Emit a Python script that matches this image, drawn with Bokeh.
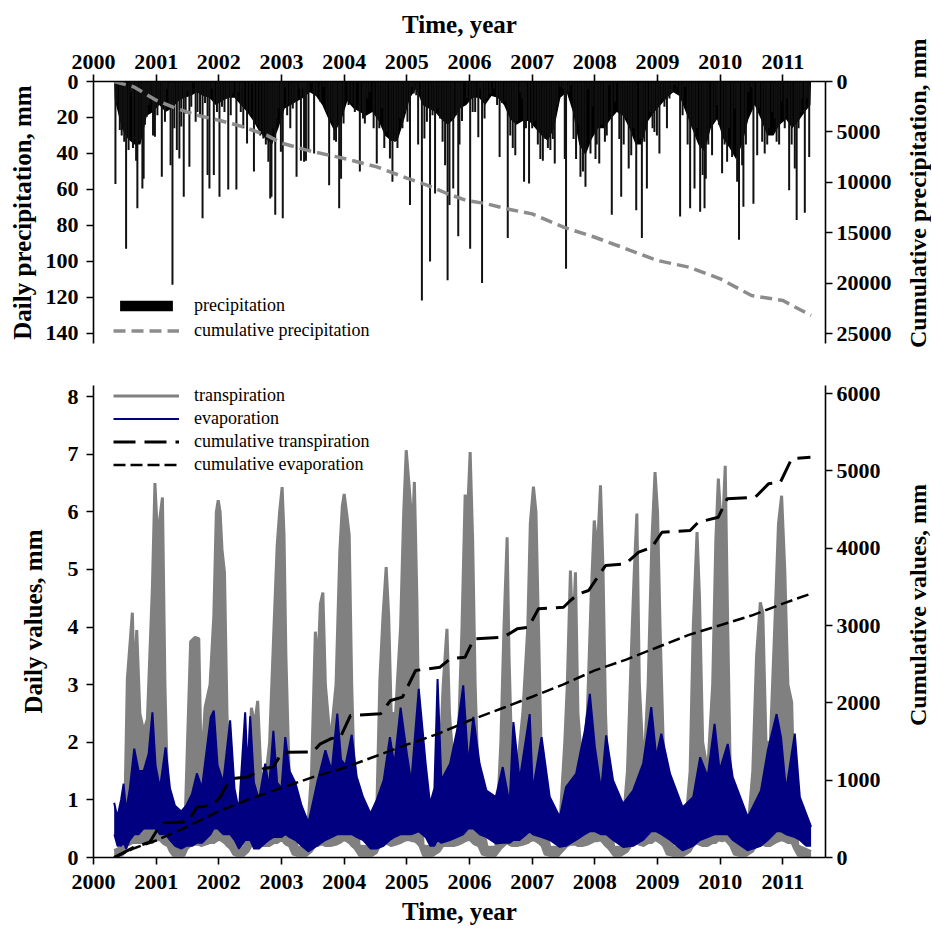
import math
from bokeh.plotting import figure
from bokeh.layouts import column, row
from bokeh.models import Range1d, LinearAxis, FixedTicker, Legend, LegendItem, Div
from bokeh.embed import file_html
from bokeh.resources import INLINE

FONT = "Liberation Serif"

# ---------------- data ----------------
years = list(range(2000, 2012))
precip_ticks = [0, 20, 40, 60, 80, 100, 120, 140]
cum_precip_ticks = [0, 5000, 10000, 15000, 20000, 25000]
daily_ticks = [0, 1, 2, 3, 4, 5, 6, 7, 8]
cum_ticks = [0, 1000, 2000, 3000, 4000, 5000, 6000]

# individual daily precipitation events (decimal year, mm)
precip_events = [
    (2000.35, 57), (2000.37, 12), (2000.42, 27), (2000.45, 30), (2000.49, 33.5), (2000.52, 93),
    (2000.56, 38), (2000.60, 6), (2000.63, 37), (2000.67, 4), (2000.68, 44), (2000.70, 70.5),
    (2000.74, 33), (2000.78, 59.4), (2000.80, 54), (2000.82, 24), (2000.85, 19.6), (2000.88, 13),
    (2000.91, 9.4), (2000.95, 30), (2000.98, 30.7), (2001.02, 18.7), (2001.05, 13), (2001.09, 53),
    (2001.12, 12), (2001.14, 22.4), (2001.17, 4), (2001.21, 13), (2001.23, 46.5), (2001.26, 113),
    (2001.29, 26), (2001.33, 38), (2001.37, 42.8), (2001.40, 25), (2001.44, 64), (2001.47, 17.8),
    (2001.50, 5), (2001.53, 47.4), (2001.56, 14), (2001.60, 1), (2001.63, 22.4), (2001.66, 17),
    (2001.70, 18.7), (2001.74, 76), (2001.78, 12), (2001.82, 52), (2001.85, 59.4), (2001.89, 4),
    (2001.92, 52), (2001.97, 17), (2002.01, 64), (2002.05, 14), (2002.09, 17), (2002.13, 9.4),
    (2002.15, 60), (2002.19, 18.7), (2002.22, 6.7), (2002.28, 60), (2002.31, 6), (2002.35, 17),
    (2002.39, 26), (2002.45, 34.4), (2002.50, 18.7), (2002.53, 1), (2002.56, 50), (2002.61, 24),
    (2002.66, 30), (2002.71, 31.7), (2002.75, 35), (2002.79, 44.6), (2002.82, 65), (2002.84, 64),
    (2002.87, 26), (2002.90, 74), (2002.92, 20.6), (2002.95, 15), (2002.99, 39), (2003.02, 76),
    (2003.06, 3), (2003.09, 18.7), (2003.14, 26), (2003.18, 15), (2003.22, 10.4), (2003.24, 53),
    (2003.29, 4), (2003.31, 44), (2003.34, 4), (2003.36, 44.6), (2003.39, 44), (2003.43, 39),
    (2003.48, 1), (2003.52, 40), (2003.56, 7.6), (2003.62, 11.3), (2003.67, 3), (2003.72, 17),
    (2003.76, 57.6), (2003.80, 22), (2003.84, 32.6), (2003.87, 33.5), (2003.91, 13), (2003.92, 70.5),
    (2003.95, 54), (2003.99, 23.3), (2004.07, 13), (2004.12, 12.2), (2004.17, 17), (2004.21, 1),
    (2004.25, 50), (2004.30, 20.6), (2004.33, 23.3), (2004.37, 9.4), (2004.41, 6), (2004.47, 26),
    (2004.52, 45.5), (2004.56, 26), (2004.60, 15), (2004.64, 37), (2004.68, 28), (2004.73, 42.8),
    (2004.77, 55.7), (2004.81, 33.5), (2004.85, 37), (2004.89, 20.6), (2004.93, 26), (2004.97, 17),
    (2005.01, 22.4), (2005.05, 68.7), (2005.08, 3), (2005.11, 6.7), (2005.15, 7.6), (2005.18, 35),
    (2005.24, 121.7), (2005.28, 31.7), (2005.32, 22.4), (2005.37, 100), (2005.41, 18.7), (2005.45, 62.2),
    (2005.49, 15), (2005.53, 20.6), (2005.57, 33.5), (2005.61, 46.5), (2005.65, 110.5), (2005.68, 68.7),
    (2005.72, 20.6), (2005.74, 59.4), (2005.79, 18.7), (2005.82, 86), (2005.84, 35), (2005.88, 22),
    (2005.96, 9.4), (2006.01, 93), (2006.05, 17), (2006.09, 17), (2006.14, 31), (2006.17, 4),
    (2006.20, 112), (2006.24, 20.6), (2006.28, 9.4), (2006.33, 6.7), (2006.39, 4), (2006.44, 13),
    (2006.48, 42), (2006.52, 12), (2006.57, 11), (2006.61, 87), (2006.65, 30), (2006.69, 37),
    (2006.73, 41), (2006.76, 22), (2006.81, 6), (2006.84, 9.4), (2006.87, 55.7), (2006.90, 26),
    (2006.95, 56.7), (2007.00, 26), (2007.05, 22), (2007.09, 35), (2007.13, 43), (2007.17, 44),
    (2007.21, 32), (2007.25, 37), (2007.29, 38), (2007.33, 32), (2007.36, 45.5), (2007.40, 13),
    (2007.45, 3), (2007.49, 4), (2007.52, 43), (2007.54, 104), (2007.58, 6), (2007.62, 2),
    (2007.66, 32), (2007.70, 43), (2007.74, 24), (2007.77, 53), (2007.81, 50), (2007.85, 58.5),
    (2007.89, 4), (2007.93, 40), (2007.96, 14), (2008.01, 43), (2008.03, 35), (2008.07, 45.5),
    (2008.11, 24), (2008.16, 33.5), (2008.19, 30), (2008.23, 2), (2008.27, 74), (2008.32, 11.3),
    (2008.35, 1), (2008.39, 32), (2008.42, 64), (2008.46, 35), (2008.50, 20.6), (2008.54, 48.3),
    (2008.58, 41), (2008.62, 26), (2008.66, 71.5), (2008.72, 32), (2008.75, 87), (2008.79, 33.5),
    (2008.83, 59.4), (2008.88, 17), (2008.92, 26), (2008.95, 28), (2008.99, 30), (2009.03, 40),
    (2009.07, 9.4), (2009.11, 14), (2009.15, 26), (2009.19, 9.4), (2009.23, 6), (2009.27, 2),
    (2009.31, 3), (2009.36, 75), (2009.40, 18.7), (2009.44, 3), (2009.48, 35), (2009.52, 70.5),
    (2009.56, 26), (2009.59, 59.4), (2009.63, 26), (2009.68, 72.4), (2009.72, 52), (2009.75, 70.5),
    (2009.77, 54), (2009.81, 35), (2009.87, 41), (2009.91, 22), (2009.95, 13), (2009.98, 24),
    (2010.03, 51), (2010.07, 35), (2010.11, 44.6), (2010.14, 26), (2010.19, 42), (2010.23, 15),
    (2010.27, 55.7), (2010.30, 88), (2010.35, 46.5), (2010.37, 69.6), (2010.41, 35), (2010.45, 6),
    (2010.50, 3), (2010.53, 68), (2010.59, 41), (2010.62, 15), (2010.67, 33.5), (2010.71, 40),
    (2010.75, 35), (2010.78, 26), (2010.83, 17), (2010.87, 20.6), (2010.90, 33.5), (2010.94, 35),
    (2010.98, 11.3), (2011.03, 26), (2011.06, 9.4), (2011.10, 60.4), (2011.14, 35), (2011.19, 48.3),
    (2011.22, 77), (2011.25, 26), (2011.28, 17), (2011.30, 9.4), (2011.35, 73), (2011.38, 9.4),
    (2011.42, 42),
]

# depth of the dense mass of small daily events (decimal year, mm)
precip_mass = [
    (2000.33, 0), (2000.34, 10), (2000.45, 26), (2000.55, 32), (2000.65, 35), (2000.75, 35),
    (2000.85, 19), (2000.95, 17), (2001.05, 13), (2001.15, 17), (2001.25, 15), (2001.35, 11),
    (2001.45, 9), (2001.55, 8), (2001.65, 6), (2001.75, 8), (2001.85, 9), (2001.95, 13),
    (2002.05, 11), (2002.15, 9), (2002.25, 9), (2002.35, 13), (2002.45, 17), (2002.55, 22),
    (2002.65, 28), (2002.75, 32), (2002.85, 35), (2002.95, 26), (2003.05, 15), (2003.15, 13),
    (2003.25, 11), (2003.35, 9), (2003.45, 6), (2003.55, 8), (2003.65, 13), (2003.75, 21),
    (2003.85, 28), (2003.95, 22), (2004.05, 11), (2004.15, 15), (2004.25, 17), (2004.35, 19),
    (2004.45, 17), (2004.55, 22), (2004.65, 30), (2004.75, 33), (2004.85, 33), (2004.95, 22),
    (2005.05, 9), (2005.15, 4), (2005.25, 13), (2005.35, 15), (2005.45, 17), (2005.55, 21),
    (2005.65, 24), (2005.75, 21), (2005.85, 15), (2005.95, 13), (2006.05, 9), (2006.15, 9),
    (2006.25, 13), (2006.35, 8), (2006.45, 9), (2006.55, 13), (2006.65, 21), (2006.75, 24),
    (2006.85, 22), (2006.95, 22), (2007.05, 26), (2007.15, 30), (2007.25, 33), (2007.35, 26),
    (2007.45, 9), (2007.55, 6), (2007.65, 17), (2007.75, 35), (2007.85, 41), (2007.95, 32),
    (2008.05, 26), (2008.15, 26), (2008.25, 21), (2008.35, 17), (2008.45, 19), (2008.55, 26),
    (2008.65, 35), (2008.75, 35), (2008.85, 22), (2008.95, 17), (2009.05, 13), (2009.15, 9),
    (2009.25, 6), (2009.35, 8), (2009.45, 17), (2009.55, 26), (2009.65, 35), (2009.75, 39),
    (2009.85, 26), (2009.95, 21), (2010.05, 32), (2010.15, 37), (2010.25, 43), (2010.35, 35),
    (2010.45, 21), (2010.55, 13), (2010.65, 21), (2010.75, 30), (2010.85, 30), (2010.95, 24),
    (2011.05, 21), (2011.15, 26), (2011.25, 22), (2011.35, 17), (2011.44, 13), (2011.45, 0),
]

# cumulative precipitation (decimal year, mm)
cum_precip = [
    (2000.33, 0), (2000.64, 530), (2001.0, 1850), (2001.33, 2680), (2001.65, 3340),
    (2002.0, 3840), (2002.39, 4500), (2002.76, 5320), (2003.0, 6100), (2003.4, 6810),
    (2004.0, 7640), (2004.52, 8470), (2005.0, 9580), (2005.32, 10280), (2005.64, 11110),
    (2005.95, 11800), (2006.25, 12100), (2006.59, 12630), (2007.0, 13130), (2007.5, 14450),
    (2008.0, 15450), (2008.5, 16600), (2009.0, 17760), (2009.5, 18420), (2010.0, 19570),
    (2010.5, 21230), (2011.0, 21730), (2011.45, 23210),
]

# daily transpiration: (decimal year, upper envelope, lower envelope) in mm
transpiration = [
    (2000.33, 0.12, 0.02), (2000.45, 0.18, 0.03), (2000.50, 0.8, 0.08), (2000.54, 3.1, 0.2),
    (2000.62, 4.25, 0.25), (2000.65, 3.0, 0.25), (2000.69, 3.95, 0.25), (2000.74, 2.5, 0.25),
    (2000.80, 2.2, 0.25), (2000.86, 2.4, 0.25), (2000.94, 4.7, 0.25), (2000.98, 6.5, 0.3),
    (2001.03, 5.4, 0.3), (2001.06, 5.9, 0.3), (2001.10, 6.25, 0.25), (2001.14, 3.0, 0.22),
    (2001.18, 1.2, 0.2), (2001.22, 0.7, 0.1), (2001.27, 0.18, 0.03), (2001.45, 0.18, 0.03),
    (2001.50, 2.0, 0.15), (2001.55, 3.75, 0.2), (2001.62, 3.82, 0.22), (2001.68, 3.8, 0.22),
    (2001.72, 1.5, 0.2), (2001.78, 2.6, 0.22), (2001.86, 3.0, 0.25), (2001.92, 4.2, 0.25),
    (2001.96, 6.0, 0.28), (2001.99, 6.2, 0.3), (2002.02, 6.0, 0.3), (2002.05, 5.35, 0.28),
    (2002.09, 4.95, 0.25), (2002.13, 2.5, 0.2), (2002.18, 1.0, 0.15), (2002.23, 0.5, 0.05),
    (2002.28, 0.18, 0.03), (2002.40, 0.18, 0.03), (2002.47, 1.5, 0.1), (2002.52, 2.6, 0.2),
    (2002.57, 2.3, 0.2), (2002.62, 2.72, 0.2), (2002.67, 1.5, 0.2), (2002.73, 1.2, 0.2),
    (2002.81, 2.0, 0.2), (2002.88, 4.0, 0.25), (2002.93, 5.4, 0.25), (2002.97, 6.0, 0.28),
    (2003.01, 6.43, 0.3), (2003.04, 5.6, 0.25), (2003.07, 3.5, 0.22), (2003.12, 1.5, 0.2),
    (2003.18, 0.6, 0.05), (2003.25, 0.18, 0.03), (2003.40, 0.18, 0.03), (2003.48, 1.5, 0.1),
    (2003.54, 3.92, 0.2), (2003.58, 3.3, 0.2), (2003.62, 4.4, 0.22), (2003.66, 4.6, 0.22),
    (2003.70, 3.0, 0.2), (2003.78, 2.0, 0.2), (2003.87, 3.0, 0.22), (2003.93, 5.3, 0.25),
    (2003.97, 6.1, 0.28), (2004.00, 6.31, 0.3), (2004.04, 5.97, 0.28), (2004.08, 5.6, 0.25),
    (2004.12, 3.0, 0.2), (2004.17, 1.0, 0.15), (2004.24, 0.2, 0.03), (2004.45, 0.18, 0.03),
    (2004.52, 0.8, 0.08), (2004.57, 3.1, 0.2), (2004.62, 4.2, 0.22), (2004.67, 5.04, 0.25),
    (2004.71, 4.2, 0.22), (2004.75, 2.5, 0.2), (2004.82, 2.5, 0.22), (2004.90, 4.0, 0.25),
    (2004.95, 6.0, 0.28), (2004.99, 7.07, 0.3), (2005.04, 6.4, 0.3), (2005.09, 5.65, 0.28),
    (2005.12, 6.52, 0.28), (2005.16, 4.5, 0.25), (2005.20, 1.5, 0.2), (2005.26, 0.2, 0.03),
    (2005.42, 0.18, 0.03), (2005.52, 1.5, 0.1), (2005.58, 3.0, 0.2), (2005.64, 3.97, 0.2),
    (2005.68, 2.5, 0.2), (2005.75, 1.5, 0.2), (2005.82, 2.0, 0.22), (2005.88, 4.0, 0.25),
    (2005.93, 6.3, 0.28), (2005.97, 6.0, 0.3), (2006.01, 7.04, 0.3), (2006.05, 5.5, 0.25),
    (2006.09, 3.0, 0.22), (2006.14, 1.2, 0.2), (2006.20, 0.6, 0.05), (2006.28, 0.18, 0.03),
    (2006.42, 0.18, 0.03), (2006.50, 2.0, 0.15), (2006.55, 4.0, 0.2), (2006.60, 5.56, 0.25),
    (2006.63, 3.5, 0.22), (2006.68, 1.5, 0.2), (2006.76, 1.5, 0.2), (2006.85, 2.5, 0.22),
    (2006.93, 4.0, 0.25), (2006.97, 5.8, 0.28), (2007.02, 6.44, 0.3), (2007.06, 6.0, 0.28),
    (2007.10, 4.0, 0.25), (2007.15, 1.5, 0.2), (2007.20, 0.6, 0.05), (2007.28, 0.18, 0.03),
    (2007.42, 0.18, 0.03), (2007.52, 2.0, 0.15), (2007.56, 3.0, 0.2), (2007.61, 4.98, 0.22),
    (2007.65, 3.8, 0.22), (2007.69, 4.95, 0.22), (2007.73, 2.5, 0.2), (2007.80, 1.5, 0.2),
    (2007.88, 2.5, 0.22), (2007.94, 4.5, 0.25), (2007.99, 5.85, 0.28), (2008.04, 5.3, 0.28),
    (2008.09, 6.46, 0.3), (2008.13, 5.0, 0.25), (2008.17, 2.5, 0.2), (2008.22, 1.0, 0.15),
    (2008.30, 0.18, 0.03), (2008.42, 0.18, 0.03), (2008.52, 1.5, 0.1), (2008.58, 3.5, 0.2),
    (2008.63, 5.0, 0.22), (2008.67, 5.97, 0.25), (2008.71, 3.0, 0.22), (2008.78, 1.5, 0.2),
    (2008.85, 3.0, 0.25), (2008.91, 5.5, 0.25), (2008.96, 6.69, 0.3), (2009.00, 6.0, 0.28),
    (2009.04, 4.0, 0.25), (2009.09, 2.0, 0.2), (2009.15, 0.8, 0.05), (2009.25, 0.18, 0.03),
    (2009.42, 0.18, 0.03), (2009.52, 1.5, 0.1), (2009.57, 4.0, 0.2), (2009.63, 5.65, 0.25),
    (2009.67, 4.5, 0.22), (2009.72, 2.0, 0.2), (2009.80, 1.5, 0.2), (2009.88, 3.0, 0.25),
    (2009.93, 5.5, 0.25), (2009.97, 6.58, 0.3), (2010.03, 5.5, 0.28), (2010.08, 6.8, 0.3),
    (2010.12, 4.0, 0.25), (2010.16, 1.5, 0.2), (2010.22, 0.6, 0.05), (2010.30, 0.18, 0.03),
    (2010.42, 0.18, 0.03), (2010.52, 1.5, 0.1), (2010.58, 3.5, 0.2), (2010.64, 4.43, 0.22),
    (2010.68, 4.25, 0.22), (2010.73, 2.0, 0.2), (2010.80, 2.0, 0.2), (2010.87, 4.0, 0.25),
    (2010.93, 5.8, 0.28), (2010.98, 6.28, 0.3), (2011.03, 5.0, 0.28), (2011.08, 3.0, 0.25),
    (2011.14, 2.7, 0.25), (2011.18, 1.0, 0.15), (2011.24, 0.2, 0.03), (2011.45, 0.1, 0.02),
]

# daily evaporation: (decimal year, upper envelope, lower envelope) in mm
evaporation = [
    (2000.33, 0.95, 0.4), (2000.38, 0.7, 0.2), (2000.44, 1.0, 0.2), (2000.48, 1.28, 0.25),
    (2000.52, 0.8, 0.15), (2000.58, 1.2, 0.3), (2000.65, 1.89, 0.4), (2000.72, 1.5, 0.4),
    (2000.80, 1.5, 0.5), (2000.88, 1.8, 0.5), (2000.94, 2.52, 0.5), (2000.99, 1.6, 0.5),
    (2001.06, 1.2, 0.4), (2001.15, 1.91, 0.4), (2001.22, 1.2, 0.3), (2001.30, 0.9, 0.2),
    (2001.40, 0.8, 0.15), (2001.48, 0.9, 0.2), (2001.57, 1.1, 0.2), (2001.65, 1.46, 0.25),
    (2001.73, 1.2, 0.25), (2001.87, 2.43, 0.4), (2001.92, 2.55, 0.5), (2001.98, 1.6, 0.5),
    (2002.07, 1.3, 0.4), (2002.18, 2.38, 0.4), (2002.25, 1.2, 0.3), (2002.32, 0.8, 0.15),
    (2002.42, 2.52, 0.3), (2002.46, 1.5, 0.3), (2002.50, 2.45, 0.3), (2002.56, 1.3, 0.15),
    (2002.64, 1.0, 0.15), (2002.74, 1.63, 0.25), (2002.80, 1.2, 0.3), (2002.87, 2.2, 0.35),
    (2002.93, 1.3, 0.35), (2003.00, 1.2, 0.35), (2003.06, 2.09, 0.4), (2003.13, 1.5, 0.35),
    (2003.22, 1.3, 0.3), (2003.32, 0.9, 0.2), (2003.43, 0.6, 0.1), (2003.57, 1.3, 0.2),
    (2003.70, 1.86, 0.3), (2003.80, 1.5, 0.35), (2003.89, 2.5, 0.4), (2003.95, 1.7, 0.4),
    (2004.02, 1.6, 0.4), (2004.12, 2.13, 0.4), (2004.20, 1.4, 0.35), (2004.30, 1.05, 0.3),
    (2004.42, 0.76, 0.15), (2004.52, 1.0, 0.15), (2004.63, 1.34, 0.2), (2004.73, 2.09, 0.3),
    (2004.80, 1.6, 0.35), (2004.90, 2.6, 0.4), (2005.00, 1.8, 0.4), (2005.07, 1.3, 0.4),
    (2005.19, 2.93, 0.45), (2005.30, 1.63, 0.35), (2005.37, 0.93, 0.2), (2005.44, 1.2, 0.2),
    (2005.49, 3.1, 0.3), (2005.55, 1.34, 0.25), (2005.69, 1.63, 0.3), (2005.80, 2.2, 0.35),
    (2005.90, 2.99, 0.4), (2005.98, 1.6, 0.5), (2006.06, 2.44, 0.5), (2006.16, 1.63, 0.4),
    (2006.27, 1.16, 0.35), (2006.42, 1.05, 0.24), (2006.53, 1.57, 0.25), (2006.64, 0.93, 0.25),
    (2006.70, 2.35, 0.3), (2006.80, 1.34, 0.3), (2006.96, 2.49, 0.45), (2007.01, 1.16, 0.4),
    (2007.15, 2.09, 0.35), (2007.28, 1.05, 0.3), (2007.44, 0.7, 0.18), (2007.54, 1.22, 0.2),
    (2007.70, 1.45, 0.3), (2007.84, 2.2, 0.4), (2007.92, 2.84, 0.45), (2008.00, 1.92, 0.45),
    (2008.10, 1.16, 0.4), (2008.18, 2.12, 0.4), (2008.29, 1.34, 0.3), (2008.45, 0.93, 0.18),
    (2008.61, 1.16, 0.2), (2008.77, 1.63, 0.3), (2008.90, 2.61, 0.45), (2008.98, 1.74, 0.45),
    (2009.06, 2.15, 0.4), (2009.20, 1.45, 0.3), (2009.40, 0.87, 0.12), (2009.57, 1.05, 0.2),
    (2009.68, 1.74, 0.3), (2009.80, 1.4, 0.35), (2009.91, 2.32, 0.4), (2009.99, 1.51, 0.4),
    (2010.12, 1.97, 0.4), (2010.20, 1.39, 0.3), (2010.44, 0.7, 0.12), (2010.65, 1.16, 0.2),
    (2010.76, 1.86, 0.3), (2010.90, 2.49, 0.45), (2010.97, 2.09, 0.45), (2011.05, 1.16, 0.4),
    (2011.19, 2.15, 0.35), (2011.27, 1.05, 0.3), (2011.37, 0.76, 0.2), (2011.45, 0.53, 0.2),
]

# cumulative transpiration (decimal year, mm)
cum_transpiration = [
    (2000.33, 0), (2000.64, 130), (2000.90, 200), (2001.04, 390), (2001.12, 450), (2001.50, 460),
    (2001.65, 650), (2001.89, 675), (2002.02, 780), (2002.18, 1018), (2002.45, 1040),
    (2002.71, 1147), (2002.86, 1170), (2003.00, 1340), (2003.10, 1360), (2003.50, 1365),
    (2003.62, 1471), (2003.80, 1540), (2003.94, 1556), (2004.10, 1837), (2004.58, 1859),
    (2004.74, 2031), (2004.93, 2074), (2005.14, 2419), (2005.53, 2462), (2005.69, 2570),
    (2005.93, 2591), (2006.07, 2829), (2006.54, 2850), (2006.76, 2958), (2006.94, 2979),
    (2007.10, 3217), (2007.50, 3238), (2007.61, 3325), (2007.74, 3411), (2007.90, 3454),
    (2008.17, 3777), (2008.49, 3800), (2008.70, 3950), (2008.91, 4014), (2009.07, 4208),
    (2009.52, 4230), (2009.65, 4337), (2009.97, 4402), (2010.11, 4640), (2010.56, 4661),
    (2010.77, 4834), (2010.96, 4855), (2011.14, 5158), (2011.44, 5178),
]

# cumulative evaporation (decimal year, mm)
cum_evaporation = [
    (2000.33, 0), (2000.65, 120), (2001.0, 220), (2001.5, 400), (2002.0, 600), (2002.5, 760),
    (2003.0, 900), (2003.5, 1040), (2004.0, 1160), (2004.5, 1310), (2005.0, 1460),
    (2005.5, 1600), (2006.0, 1772), (2006.5, 1924), (2007.0, 2080), (2007.5, 2240),
    (2008.0, 2420), (2008.5, 2560), (2009.0, 2720), (2009.5, 2880), (2010.0, 3005),
    (2010.5, 3130), (2011.0, 3285), (2011.44, 3411),
]

# ---------------- helpers ----------------
def col(rows, i):
    return [r[i] for r in rows]


def style_axis(ax, ticks, label_standoff, tick_standoff, tick_size="22px"):
    ax.ticker = FixedTicker(ticks=ticks)
    ax.major_label_text_font = FONT
    ax.major_label_text_font_style = "bold"
    ax.major_label_text_font_size = tick_size
    ax.major_label_text_color = "black"
    ax.axis_label_text_font = FONT
    ax.axis_label_text_font_style = "bold"
    ax.axis_label_text_font_size = "25px"
    ax.axis_label_text_color = "black"
    ax.axis_line_color = "black"
    ax.axis_line_width = 1.6
    ax.major_tick_line_color = "black"
    ax.major_tick_line_width = 1.6
    ax.major_tick_in = 0
    ax.major_tick_out = 7
    ax.minor_tick_line_color = None
    ax.axis_label_standoff = label_standoff
    ax.major_label_standoff = tick_standoff


def title_div(text, height, pad_top=0, pad_bottom=0, width=27):
    # right-hand title reading from bottom to top, like the reference
    return Div(text=text, width=width, height=height,
               styles={"writing-mode": "vertical-rl", "transform": "rotate(180deg)",
                       "font-family": "'Liberation Serif', serif", "font-weight": "bold",
                       "font-size": "24px", "line-height": "27px", "text-align": "center",
                       "white-space": "nowrap", "color": "black",
                       "box-sizing": "border-box",
                       "padding-top": f"{pad_top}px", "padding-bottom": f"{pad_bottom}px",
                       "margin": "0px", "overflow": "visible"})


def legend_for(items, loc, glyph_h, label_h, spacing):
    lg = Legend(items=items, location=loc)
    lg.border_line_color = None
    lg.background_fill_alpha = 0
    lg.padding = 0
    lg.margin = 0
    lg.spacing = spacing
    lg.glyph_width = 66
    lg.glyph_height = glyph_h
    lg.label_height = label_h
    lg.label_standoff = 15
    lg.label_text_font = FONT
    lg.label_text_font_size = "18px"
    lg.label_text_color = "black"
    lg.label_text_baseline = "middle"
    return lg


X_RANGE = (2000, 2011.68)

# ---------------- top panel: precipitation ----------------
top = figure(frame_width=732, frame_height=262,
             x_range=Range1d(*X_RANGE), y_range=Range1d(145.6, 0),
             x_axis_location="above", y_axis_location="left",
             output_backend="svg", toolbar_location=None,
             min_border_left=93, min_border_right=80,
             min_border_top=81, min_border_bottom=5,
             background_fill_color="white", border_fill_color="white")
top.outline_line_color = None
top.xgrid.visible = False
top.ygrid.visible = False
top.extra_y_ranges = {"cum": Range1d(25990, 0)}

mass = top.varea(x=col(precip_mass, 0), y1=0, y2=col(precip_mass, 1),
                 fill_color="black", fill_alpha=1)
top.segment(x0=col(precip_events, 0), y0=0, x1=col(precip_events, 0),
            y1=col(precip_events, 1), line_color="#111111", line_width=2)
cum_p = top.line(x=col(cum_precip, 0), y=col(cum_precip, 1), y_range_name="cum",
                 line_color="#8c8c8c", line_width=3.5, line_dash="12 6")

style_axis(top.xaxis[0], years, 14, 6, tick_size="22px")
top.xaxis[0].axis_label = "Time, year"
style_axis(top.yaxis[0], precip_ticks, 7, 8)
top.yaxis[0].axis_label = "Daily precipitation, mm"
ax_r = LinearAxis(y_range_name="cum")
style_axis(ax_r, cum_precip_ticks, 14, 4)
top.add_layout(ax_r, "right")

top.add_layout(legend_for([LegendItem(label="precipitation", renderers=[mass]),
                           LegendItem(label="cumulative precipitation", renderers=[cum_p])],
                          (20, 2), 13, 13, 4))

top_title = title_div("Cumulative precipitation, mm", 348, pad_bottom=40)

# ---------------- bottom panel: transpiration & evaporation ----------------
bot = figure(frame_width=732, frame_height=472,
             x_range=Range1d(*X_RANGE), y_range=Range1d(0, 8.194),
             output_backend="svg", toolbar_location=None,
             min_border_left=93, min_border_right=80,
             min_border_top=37, min_border_bottom=77,
             background_fill_color="white", border_fill_color="white")
bot.outline_line_color = None
bot.xgrid.visible = False
bot.ygrid.visible = False
bot.extra_y_ranges = {"cum": Range1d(0, 6106)}

bot.varea(x=col(transpiration, 0), y1=col(transpiration, 2), y2=col(transpiration, 1),
          fill_color="#808080")
tr = bot.line(x=col(transpiration, 0), y=col(transpiration, 1), line_color="#808080",
              line_width=3)
bot.line(x=col(transpiration, 0), y=col(transpiration, 2), line_color="#808080", line_width=2)

bot.varea(x=col(evaporation, 0), y1=col(evaporation, 2), y2=col(evaporation, 1),
          fill_color="#000080")
ev = bot.line(x=col(evaporation, 0), y=col(evaporation, 1), line_color="#000080",
              line_width=2)
bot.line(x=col(evaporation, 0), y=col(evaporation, 2), line_color="#000080", line_width=1.5)

ct = bot.line(x=col(cum_transpiration, 0), y=col(cum_transpiration, 1), y_range_name="cum",
              line_color="black", line_width=3, line_dash="22 9")
ce = bot.line(x=col(cum_evaporation, 0), y=col(cum_evaporation, 1), y_range_name="cum",
              line_color="black", line_width=2.5, line_dash="12 5")

style_axis(bot.xaxis[0], years, 6, 10)
bot.xaxis[0].axis_label = "Time, year"
style_axis(bot.yaxis[0], daily_ticks, 18, 8)
bot.yaxis[0].axis_label = "Daily values, mm"
ax_r2 = LinearAxis(y_range_name="cum")
style_axis(ax_r2, cum_ticks, 14, 4)
bot.add_layout(ax_r2, "right")

bot.add_layout(legend_for([LegendItem(label="transpiration", renderers=[tr]),
                           LegendItem(label="evaporation", renderers=[ev]),
                           LegendItem(label="cumulative transpiration", renderers=[ct]),
                           LegendItem(label="cumulative evaporation", renderers=[ce])],
                          (20, 382), 21, 21, 2))

bot_title = title_div("Cumulative values, mm", 586, pad_top=72)

layout = column(row(top, top_title, spacing=0), row(bot, bot_title, spacing=0), spacing=0)
open("out.html", "w").write(file_html(layout, INLINE))
